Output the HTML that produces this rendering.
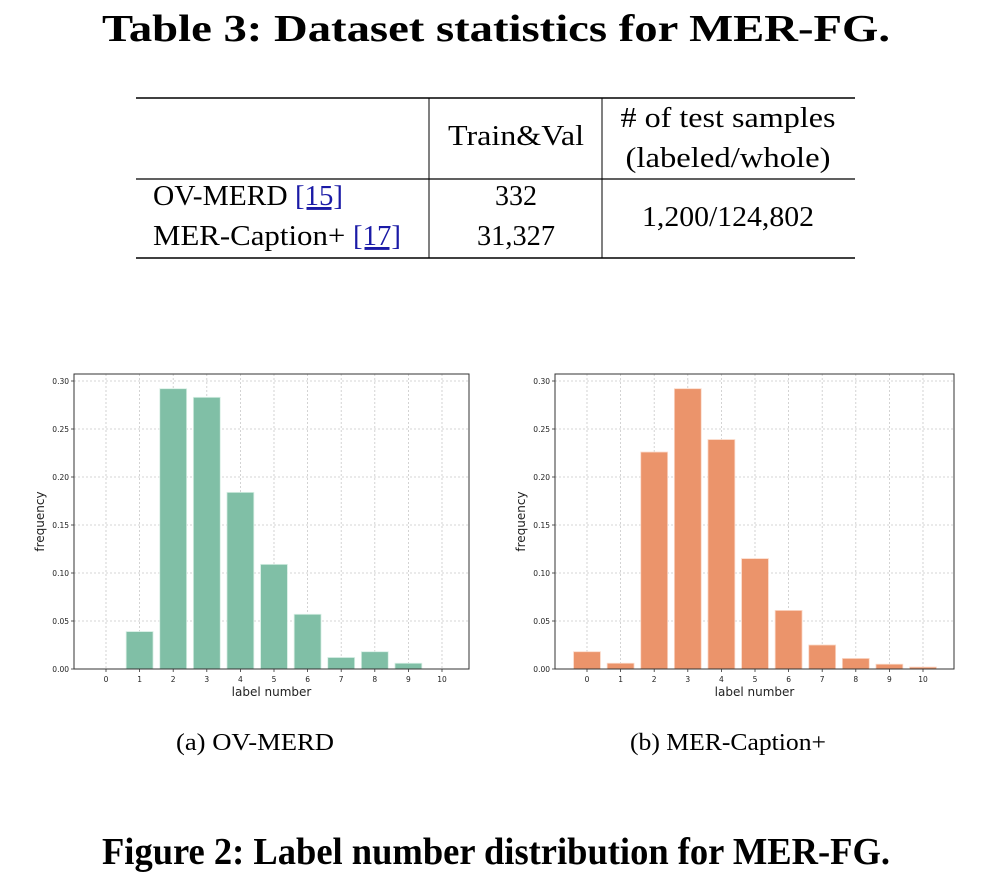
<!DOCTYPE html>
<html><head><meta charset="utf-8"><style>
html,body{margin:0;padding:0;background:#fff;width:998px;height:896px;overflow:hidden}
svg{display:block}
.serif{font-family:"Liberation Serif",serif;fill:#000}
.sans{font-family:"DejaVu Sans","Liberation Sans",sans-serif;fill:#222}
</style></head><body>
<svg id="page" width="998" height="896" viewBox="0 0 998 896">
<text class="serif" x="496" y="41" font-size="38" font-weight="bold" text-anchor="middle" textLength="788" lengthAdjust="spacingAndGlyphs">Table 3: Dataset statistics for MER-FG.</text>
<g>
<line x1="136" y1="98" x2="855" y2="98" stroke="#000" stroke-width="1.5"/>
<line x1="136" y1="179" x2="855" y2="179" stroke="#000" stroke-width="1.2"/>
<line x1="136" y1="258" x2="855" y2="258" stroke="#000" stroke-width="1.5"/>
<line x1="429" y1="98" x2="429" y2="258" stroke="#000" stroke-width="1"/>
<line x1="602" y1="98" x2="602" y2="258" stroke="#000" stroke-width="1"/>
<text class="serif" x="516" y="145" font-size="29" text-anchor="middle" textLength="136" lengthAdjust="spacingAndGlyphs">Train&amp;Val</text>
<text class="serif" x="728" y="127" font-size="29" text-anchor="middle" textLength="215" lengthAdjust="spacingAndGlyphs"># of test samples</text>
<text class="serif" x="728" y="167" font-size="29" text-anchor="middle" textLength="205" lengthAdjust="spacingAndGlyphs">(labeled/whole)</text>
<text class="serif" x="153" y="205" font-size="29"><tspan textLength="142" lengthAdjust="spacingAndGlyphs">OV-MERD </tspan><tspan fill="#1a1aa6" text-decoration="underline" textLength="48" lengthAdjust="spacingAndGlyphs">[15]</tspan></text>
<text class="serif" x="153" y="245" font-size="29"><tspan textLength="200" lengthAdjust="spacingAndGlyphs">MER-Caption+ </tspan><tspan fill="#1a1aa6" text-decoration="underline" textLength="48" lengthAdjust="spacingAndGlyphs">[17]</tspan></text>
<text class="serif" x="516" y="205" font-size="29" text-anchor="middle" textLength="42" lengthAdjust="spacingAndGlyphs">332</text>
<text class="serif" x="516" y="245" font-size="29" text-anchor="middle" textLength="78" lengthAdjust="spacingAndGlyphs">31,327</text>
<text class="serif" x="728" y="226" font-size="29" text-anchor="middle" textLength="172" lengthAdjust="spacingAndGlyphs">1,200/124,802</text>
</g>
<g id="chartA"></g>
<g id="chartB"></g>
<text class="serif" x="255" y="750" font-size="24" text-anchor="middle" textLength="158" lengthAdjust="spacingAndGlyphs">(a)  OV-MERD</text>
<text class="serif" x="728" y="750" font-size="24" text-anchor="middle" textLength="196" lengthAdjust="spacingAndGlyphs">(b)  MER-Caption+</text>
<text class="serif" x="496" y="864" font-size="38" font-weight="bold" text-anchor="middle" textLength="788" lengthAdjust="spacingAndGlyphs">Figure 2: Label number distribution for MER-FG.</text>
</svg>
<script>
const categories = [0,1,2,3,4,5,6,7,8,9,10];
const ovMerdValues = [0,0.039,0.292,0.283,0.184,0.109,0.057,0.012,0.018,0.006,0];
const merCaptionValues = [0.018,0.006,0.226,0.292,0.239,0.115,0.061,0.025,0.011,0.005,0.002];
const yTicks = [0,0.05,0.10,0.15,0.20,0.25,0.30];
const yTickLabels = ["0.00","0.05","0.10","0.15","0.20","0.25","0.30"];

const NS = "http://www.w3.org/2000/svg";
function mk(tag, attrs, parent){const e=document.createElementNS(NS,tag);for(const k in attrs)e.setAttribute(k,attrs[k]);parent.appendChild(e);return e;}

function drawChart(g, values, cfg, prefix){
  const xScale = c => cfg.x0 + (c - categories[0]) * (cfg.x10 - cfg.x0) / (categories[categories.length-1] - categories[0]);
  const yScale = v => cfg.bottom - v * (cfg.bottom - cfg.y30) / 0.30;
  const step = (cfg.x10 - cfg.x0) / 10, bw = step*0.8;
  yTicks.forEach((t,i)=>{
    const y=yScale(t);
    const l=mk("line",{x1:cfg.left,x2:cfg.right,y1:y,y2:y,stroke:"#c8c8c8","stroke-width":0.8,"stroke-dasharray":"2,2"},g);
    
    
    mk("line",{x1:cfg.left-3,x2:cfg.left,y1:y,y2:y,stroke:"#333","stroke-width":0.8},g);
    const tx=mk("text",{x:cfg.left-5,y:y+3,"font-size":7.5,"text-anchor":"end",class:"sans"},g);
    tx.textContent=yTickLabels[i];
    
    
  });
  categories.forEach(c=>{
    const x=xScale(c);
    const l=mk("line",{x1:x,x2:x,y1:cfg.top,y2:cfg.bottom,stroke:"#c8c8c8","stroke-width":0.8,"stroke-dasharray":"2,2"},g);
    
    
    mk("line",{x1:x,x2:x,y1:cfg.bottom,y2:cfg.bottom+3,stroke:"#333","stroke-width":0.8},g);
    const tx=mk("text",{x:x,y:cfg.bottom+13,"font-size":7.5,"text-anchor":"middle",class:"sans"},g);
    tx.textContent=String(c);
    
    
  });
  values.forEach((v,i)=>{
    if(v<=0) return;
    const x=xScale(categories[i]), y=yScale(v);
    const r=mk("rect",{x:x-bw/2,y:y,width:bw,height:cfg.bottom-y,fill:cfg.color,stroke:cfg.edge,"stroke-width":0.8},g);
    
    
  });
  const fr=mk("rect",{x:cfg.left,y:cfg.top,width:cfg.right-cfg.left,height:cfg.bottom-cfg.top,fill:"none",stroke:"#333","stroke-width":1},g);
  
  
  const xl=mk("text",{x:(cfg.left+cfg.right)/2,y:cfg.bottom+27,"font-size":12,"text-anchor":"middle",class:"sans"},g);
  xl.textContent="label number";
  
  
  const yl=mk("text",{x:0,y:0,"font-size":12,"text-anchor":"middle",class:"sans",transform:`translate(${cfg.left-30},${(cfg.top+cfg.bottom)/2}) rotate(-90)`},g);
  yl.textContent="frequency";
  
  
}
drawChart(document.getElementById("chartA"), ovMerdValues,
  {left:74,right:469,top:374,bottom:669,y30:381,x0:106,x10:442,color:"#80bfa6",edge:"#d8efe5"},"ov-merd");
drawChart(document.getElementById("chartB"), merCaptionValues,
  {left:555,right:954,top:374,bottom:669,y30:381,x0:587,x10:923,color:"#eb946b",edge:"#fbd9c8"},"mer-caption");
</script>
</body></html>
